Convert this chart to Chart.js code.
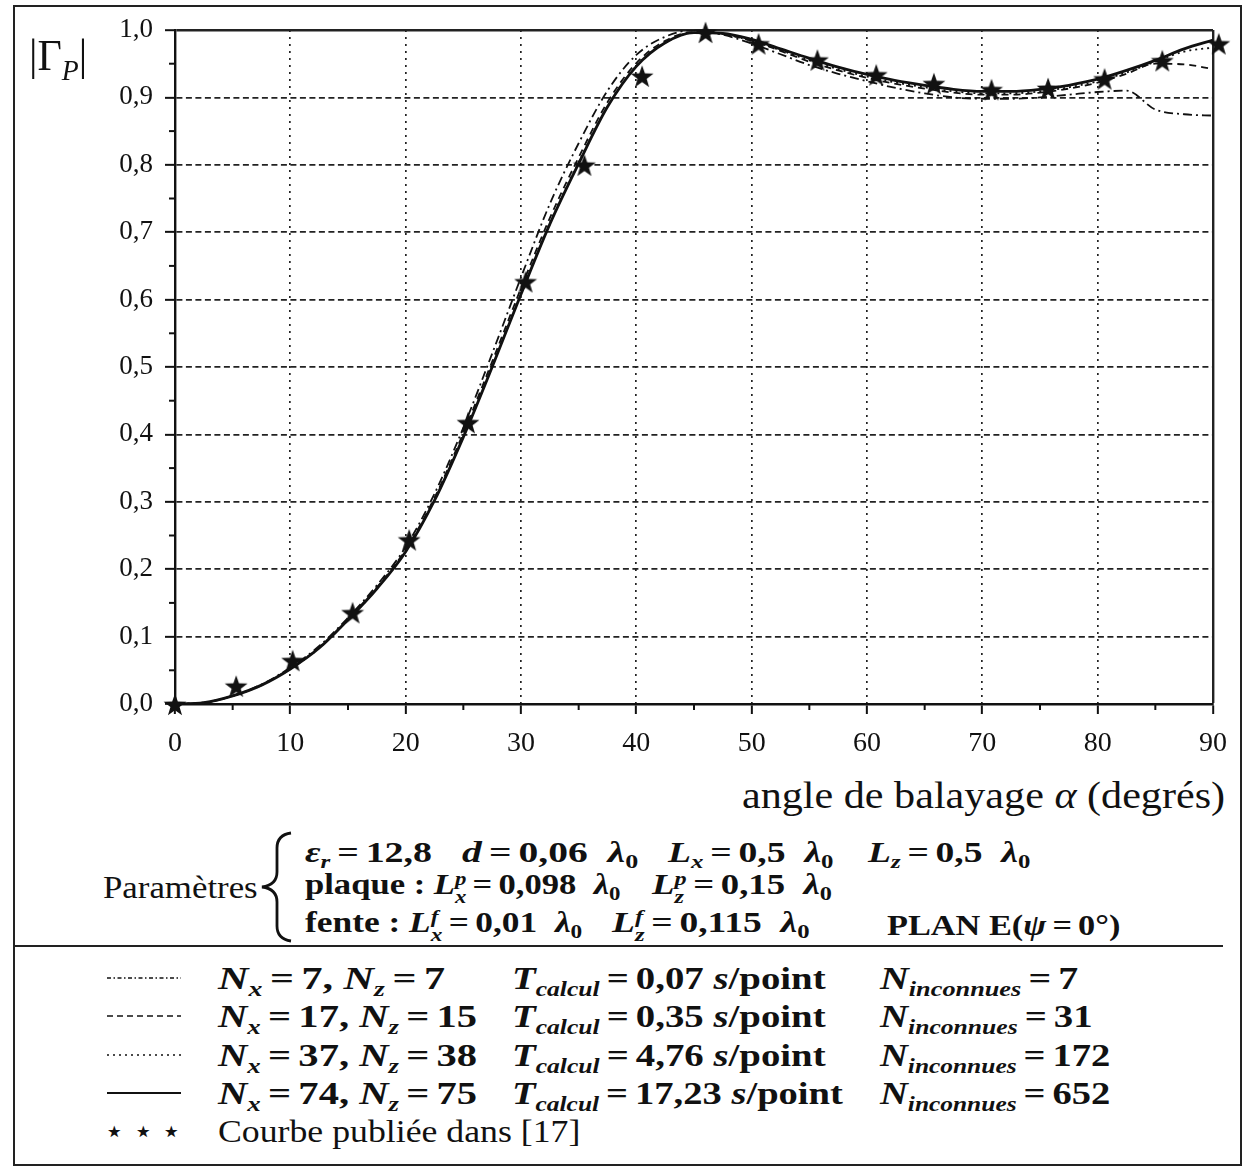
<!DOCTYPE html>
<html lang="fr">
<head>
<meta charset="utf-8">
<script src="https://cdn.jsdelivr.net/npm/chart.js@4.4.1/dist/chart.umd.min.js"></script>
<style>
  html, body { margin: 0; padding: 0; background: #fff; }
  body { width: 1246px; height: 1172px; position: relative; overflow: hidden;
         font-family: "Liberation Serif", "DejaVu Serif", serif; color: #111; }
  #frame { position: absolute; left: 13px; top: 5px; width: 1229px; height: 1161px;
           border: 2px solid #222; box-sizing: border-box; }
  #rule { position: absolute; left: 13px; top: 945px; width: 1210px; height: 2px; background: #222; }
  #wrap { position: absolute; left: 0; top: 0; width: 1246px; height: 770px; }
  .t { position: absolute; white-space: nowrap; line-height: 1; transform: translateY(-50%);
       transform-origin: left center; }
  .b { font-weight: bold; }
  .sb { font-size: 0.66em; position: relative; top: 0.32em; }
  .ss { display: inline-block; font-size: 0.66em; line-height: 0.9; vertical-align: -0.45em; font-style: italic; }
  .ss span { display: block; }
  .eq { margin: 0 0.18em; }
  svg { position: absolute; overflow: visible; }
</style>
</head>
<body>
<div id="frame"></div>
<div id="wrap"><canvas id="gammaChart"></canvas></div>

<div class="t" style="left:29px;top:55px;font-size:45px" data-w="58">|Γ<span class="sb"><i>P</i></span>|</div>
<div class="t" style="left:742px;top:795px;font-size:37px" data-w="483">angle de balayage <i>α</i> (degrés)</div>

<!-- paramètres -->
<div class="t" style="left:103px;top:887px;font-size:31px" data-w="155">Paramètres</div>
<svg width="40" height="120" style="left:258px;top:830px">
  <path d="M33 3 Q19 5 19 18 L19 42 Q19 55 4 57 Q19 59 19 72 L19 96 Q19 109 33 111" fill="none" stroke="#111" stroke-width="2.8"/>
</svg>
<div class="t b" style="left:305px;top:852px;font-size:29px" data-w="127"><i>ε</i><span class="sb"><i>r</i></span><span class="eq">=</span>12,8</div>
<div class="t b" style="left:462px;top:852px;font-size:29px" data-w="176"><i>d</i><span class="eq">=</span>0,06 &nbsp;<i>λ</i><span class="sb">0</span></div>
<div class="t b" style="left:668px;top:852px;font-size:29px" data-w="165"><i>L</i><span class="sb"><i>x</i></span><span class="eq">=</span>0,5 &nbsp;<i>λ</i><span class="sb">0</span></div>
<div class="t b" style="left:868px;top:852px;font-size:29px" data-w="162"><i>L</i><span class="sb"><i>z</i></span><span class="eq">=</span>0,5 &nbsp;<i>λ</i><span class="sb">0</span></div>
<div class="t b" style="left:305px;top:887px;font-size:29px" data-w="315">plaque : <i>L</i><span class="ss"><span>p</span><span>x</span></span><span class="eq">=</span>0,098 &nbsp;<i>λ</i><span class="sb">0</span></div>
<div class="t b" style="left:652px;top:887px;font-size:29px" data-w="180"><i>L</i><span class="ss"><span>p</span><span>z</span></span><span class="eq">=</span>0,15 &nbsp;<i>λ</i><span class="sb">0</span></div>
<div class="t b" style="left:305px;top:925px;font-size:29px" data-w="277">fente : <i>L</i><span class="ss"><span>f</span><span>x</span></span><span class="eq">=</span>0,01 &nbsp;<i>λ</i><span class="sb">0</span></div>
<div class="t b" style="left:612px;top:925px;font-size:29px" data-w="198"><i>L</i><span class="ss"><span>f</span><span>z</span></span><span class="eq">=</span>0,115 &nbsp;<i>λ</i><span class="sb">0</span></div>
<div class="t b" style="left:887px;top:925px;font-size:29px" data-w="233">PLAN E(<i>ψ</i><span class="eq">=</span>0°)</div>

<div id="rule"></div>
<div id="legend"></div>

<script>
// angles de balayage (degrés) communs aux quatre calculs
const angles = [0, 2.5, 5, 7.5, 10, 12.5, 15, 17.5, 20, 22.5, 25, 27.5, 30, 32.5, 35, 37.5, 40, 42.5,
                45, 47.5, 50, 52.5, 55, 57.5, 60, 62.5, 65, 67.5, 70, 72.5, 75, 77.5, 80, 82.5, 85, 87.5, 90];

// |Gamma_P| pour chaque maillage
const gammaN7 = [0, 0.002, 0.012, 0.029, 0.054, 0.086, 0.128, 0.176, 0.233, 0.312, 0.41, 0.52, 0.633, 0.742,
                 0.832, 0.91, 0.963, 0.99, 1.0, 0.993, 0.98, 0.964, 0.948, 0.935, 0.924, 0.914, 0.906, 0.9,
                 0.898, 0.898, 0.9, 0.904, 0.908, 0.91, 0.882, 0.875, 0.873];
const gammaN17 = [0, 0.002, 0.012, 0.028, 0.053, 0.084, 0.126, 0.173, 0.229, 0.306, 0.402, 0.508, 0.617, 0.721,
                  0.811, 0.893, 0.951, 0.984, 0.997, 0.994, 0.984, 0.969, 0.953, 0.94, 0.929, 0.92, 0.913, 0.907,
                  0.904, 0.904, 0.907, 0.913, 0.922, 0.935, 0.95, 0.949, 0.942];
const gammaN37 = [0, 0.002, 0.012, 0.028, 0.052, 0.083, 0.125, 0.171, 0.227, 0.303, 0.397, 0.502, 0.61, 0.714,
                  0.804, 0.887, 0.947, 0.981, 0.996, 0.994, 0.984, 0.97, 0.955, 0.942, 0.931, 0.922, 0.915, 0.909,
                  0.906, 0.906, 0.909, 0.915, 0.924, 0.937, 0.953, 0.968, 0.974];
const gammaN74 = [0, 0.002, 0.012, 0.028, 0.052, 0.083, 0.125, 0.171, 0.226, 0.302, 0.396, 0.5, 0.608, 0.712,
                  0.802, 0.886, 0.946, 0.981, 0.996, 0.995, 0.986, 0.972, 0.958, 0.945, 0.934, 0.925, 0.918, 0.912,
                  0.909, 0.909, 0.912, 0.918, 0.927, 0.94, 0.955, 0.972, 0.985];

// courbe publiée dans [17]
const publishedAngles = [0, 5.3, 10.2, 15.4, 20.3, 25.4, 30.4, 35.5, 40.5, 46, 50.6, 55.7, 60.8, 65.8, 70.8,
                         75.7, 80.6, 85.6, 90.5];
const publishedGamma = [0, 0.027, 0.065, 0.136, 0.244, 0.418, 0.627, 0.8, 0.932, 0.997, 0.98, 0.956, 0.934,
                        0.921, 0.912, 0.914, 0.928, 0.955, 0.98];

const xTicks = [0, 10, 20, 30, 40, 50, 60, 70, 80, 90];
const yTicks = [0, 0.1, 0.2, 0.3, 0.4, 0.5, 0.6, 0.7, 0.8, 0.9, 1.0];
const xMinor = [5, 15, 25, 35, 45, 55, 65, 75, 85];
const yMinor = [0.05, 0.15, 0.25, 0.35, 0.45, 0.55, 0.65, 0.75, 0.85, 0.95];

const legendRows = [
  { dash: '4 2.5 1.5 2.5', nx: '7', nz: '7', t: '0,07', n: '7', w: [227, 313, 198] },
  { dash: '6 4', nx: '17', nz: '15', t: '0,35', n: '31', w: [259, 313, 213] },
  { dash: '2 4', nx: '37', nz: '38', t: '4,76', n: '172', w: [259, 313, 230] },
  { dash: '', nx: '74', nz: '75', t: '17,23', n: '652', w: [259, 331, 230] }
];
const rowY = [978, 1016, 1055, 1093, 1131];

const INK = '#111';

function toPoints(xs, ys) {
  return xs.map((x, i) => ({ x: x, y: ys[i] }));
}

// étoile à cinq branches pour les points publiés
function starImage(size) {
  const c = document.createElement('canvas');
  c.width = size; c.height = size;
  const g = c.getContext('2d');
  const cx = size / 2, cy = size / 2 + size * 0.06, R = size / 2, r = R * 0.4;
  g.beginPath();
  for (let k = 0; k < 10; k++) {
    const rad = k % 2 ? r : R;
    const a = -Math.PI / 2 + k * Math.PI / 5;
    g.lineTo(cx + rad * Math.cos(a), cy + rad * Math.sin(a));
  }
  g.closePath();
  g.fillStyle = INK;
  g.fill();
  return c;
}

const minorTicks = {
  id: 'minorTicks',
  afterDraw(chart) {
    const { ctx, scales: { x, y } } = chart;
    ctx.save();
    ctx.strokeStyle = INK;
    ctx.lineWidth = 2;
    xMinor.forEach(v => {
      const px = x.getPixelForValue(v);
      ctx.beginPath(); ctx.moveTo(px, y.bottom); ctx.lineTo(px, y.bottom + 6); ctx.stroke();
    });
    yMinor.forEach(v => {
      const py = y.getPixelForValue(v);
      ctx.beginPath(); ctx.moveTo(x.left, py); ctx.lineTo(x.left - 6, py); ctx.stroke();
    });
    ctx.restore();
  }
};

Chart.defaults.font.family = '"Liberation Serif", "DejaVu Serif", serif';
Chart.defaults.color = INK;

const lineStyle = { borderColor: INK, pointRadius: 0, fill: false, cubicInterpolationMode: 'monotone' };

new Chart(document.getElementById('gammaChart'), {
  type: 'line',
  data: {
    datasets: [
      { label: 'Courbe publiée dans [17]', data: toPoints(publishedAngles, publishedGamma), showLine: false,
        pointStyle: starImage(24), pointRadius: 12, clip: false },
      { ...lineStyle, label: 'Nx=74, Nz=75', data: toPoints(angles, gammaN74), borderWidth: 2.8 },
      { ...lineStyle, label: 'Nx=37, Nz=38', data: toPoints(angles, gammaN37), borderWidth: 1.8, borderDash: [2, 4] },
      { ...lineStyle, label: 'Nx=17, Nz=15', data: toPoints(angles, gammaN17), borderWidth: 1.8, borderDash: [7, 5] },
      { ...lineStyle, label: 'Nx=7, Nz=7', data: toPoints(angles, gammaN7), borderWidth: 1.8, borderDash: [9, 4, 2, 4] }
    ]
  },
  options: {
    responsive: true,
    maintainAspectRatio: false,
    animation: false,
    layout: { padding: { left: 10, top: 30, right: 33, bottom: 0 } },
    plugins: { legend: { display: false }, tooltip: { enabled: false } },
    scales: {
      x: {
        type: 'linear', min: 0, max: 90,
        afterBuildTicks: s => { s.ticks = xTicks.map(v => ({ value: v })); },
        afterFit: s => { s.height = 66; },
        ticks: { font: { size: 28 }, color: INK, padding: 13, maxRotation: 0, autoSkip: false },
        grid: { color: '#222', lineWidth: c => (c.tick && c.tick.value === 90 ? 2.4 : 1.7),
                tickLength: 10, tickColor: INK, tickWidth: 2 },
        border: { color: INK, width: 2.4, dash: c => (c.tick && c.tick.value !== 90 ? [2, 5] : []) }
      },
      y: {
        type: 'linear', min: 0, max: 1,
        afterBuildTicks: s => { s.ticks = yTicks.map(v => ({ value: v })); },
        afterFit: s => { s.width = 165; },
        ticks: { font: { size: 27 }, color: INK, padding: 12,
                 callback: v => v.toFixed(1).replace('.', ',') },
        grid: { color: '#222', lineWidth: c => (c.tick && c.tick.value === 1 ? 2.4 : 1.7),
                tickLength: 10, tickColor: INK, tickWidth: 2 },
        border: { color: INK, width: 2.4, dash: c => (c.tick && c.tick.value !== 1 ? [6, 3.5] : []) }
      }
    }
  },
  plugins: [minorTicks]
});

// légende : échantillons de trait et textes
const legend = document.getElementById('legend');
let html = '';
legendRows.forEach((r, i) => {
  const y = rowY[i];
  html += '<svg width="74" height="6" style="left:107px;top:' + (y - 3) + 'px">' +
          '<line x1="0" y1="3" x2="74" y2="3" stroke="#111" stroke-width="' + (r.dash ? 1.6 : 2.2) + '"' +
          (r.dash ? ' stroke-dasharray="' + r.dash + '"' : '') + '/></svg>';
  html += '<div class="t b" style="left:218px;top:' + y + 'px;font-size:31px" data-w="' + r.w[0] + '">' +
          '<i>N</i><span class="sb"><i>x</i></span><span class="eq">=</span>' + r.nx + ', ' +
          '<i>N</i><span class="sb"><i>z</i></span><span class="eq">=</span>' + r.nz + '</div>';
  html += '<div class="t b" style="left:512px;top:' + y + 'px;font-size:31px" data-w="' + r.w[1] + '">' +
          '<i>T</i><span class="sb"><i>calcul</i></span><span class="eq">=</span>' + r.t + ' <i>s</i>/point</div>';
  html += '<div class="t b" style="left:880px;top:' + y + 'px;font-size:31px" data-w="' + r.w[2] + '">' +
          '<i>N</i><span class="sb"><i>inconnues</i></span><span class="eq">=</span>' + r.n + '</div>';
});
html += '<div class="t" style="left:104px;top:' + rowY[4] + 'px;font-size:32px" data-w="78">⋆ ⋆ ⋆</div>';
html += '<div class="t" style="left:218px;top:' + rowY[4] + 'px;font-size:32px" data-w="362">Courbe publiée dans [17]</div>';
legend.innerHTML = html;

// largeur des textes calée sur la composition d'origine
document.querySelectorAll('[data-w]').forEach(el => {
  const w = el.scrollWidth;
  const k = Number(el.dataset.w) / w;
  el.style.transform = 'translateY(-50%) scaleX(' + k.toFixed(3) + ')';
});
</script>
</body>
</html>
